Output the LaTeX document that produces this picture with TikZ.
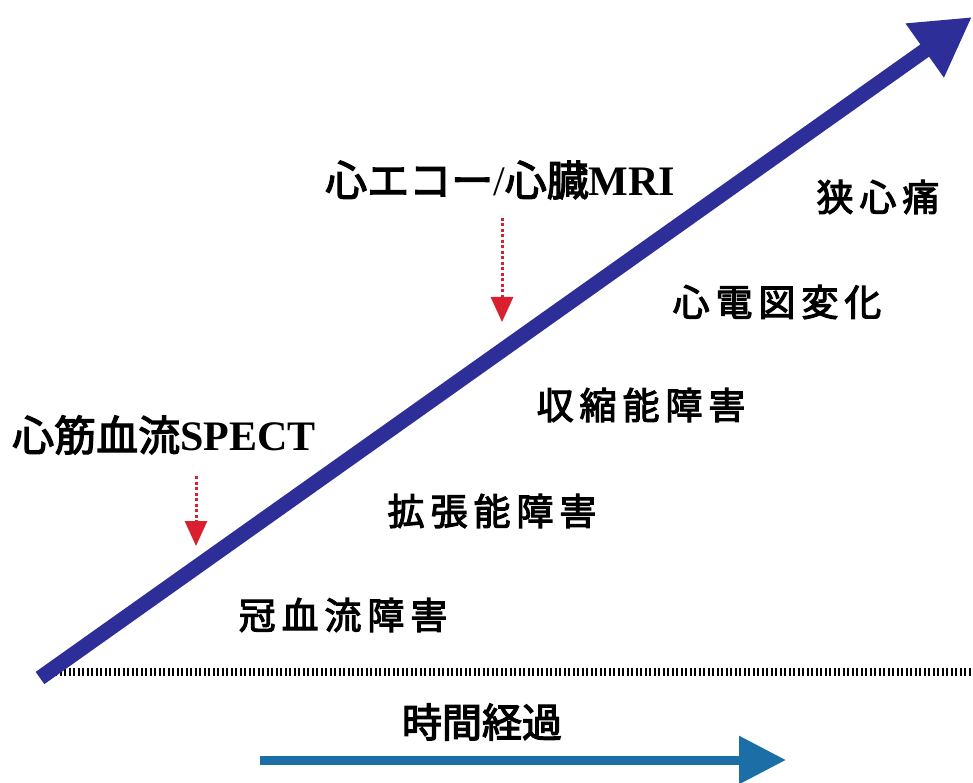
\documentclass[tikz,border=0pt]{standalone}
\usepackage{fontspec}
\setmainfont{Liberation Serif}
\newfontfamily\jp{Noto Sans CJK JP}[FakeBold=3]
\newfontfamily\jpsp{Noto Sans CJK JP}[FakeBold=3,LetterSpace=16]
\usetikzlibrary{arrows.meta}
\definecolor{mainblue}{RGB}{46,46,152}
\definecolor{timeblue}{RGB}{27,111,166}
\definecolor{redarr}{RGB}{218,32,46}
\newcommand{\lat}[1]{{\rmfamily\bfseries #1}}
\tikzset{
  lbl/.style={inner sep=0pt, font=\jpsp\fontsize{37}{40}\selectfont},
  test/.style={inner sep=0pt, anchor=west},
  redarrow/.style={redarr, line width=3pt, dash pattern=on 3pt off 2.5pt,
    -{Triangle[length=25pt,width=22pt,sep=0pt]}, shorten >=0pt},
}
\begin{document}
\begin{tikzpicture}[x=1pt,y=1pt]
\useasboundingbox (0,0) rectangle (973,782);
\fill[white] (0,0) rectangle (973,782);
% baseline dotted
\coordinate (b0) at (55,110);
\coordinate (b1) at (973,110);
\draw[black, line width=8pt, dash pattern=on 2.4pt off 2.1pt] (b0) -- (b1);
% main arrow
\coordinate (s) at (40,104);
\coordinate (t) at (972,765);
\draw[mainblue, line width=15pt, -{Triangle[length=58pt,width=62pt]}] (s) -- (t);
% labels
\node[test] (spect) at (12,347) {\jp\fontsize{42}{46}\selectfont 心筋血流\lat{SPECT}};
\node[test] (mri) at (325,602) {\jp\fontsize{42}{46}\selectfont 心エコー{\rmfamily/}心臓\lat{MRI}};
\node[lbl] (l1) at (878,585) {狭心痛};
\node[lbl] (l2) at (777,480) {心電図変化};
\node[lbl] (l3) at (641,377) {収縮能障害};
\node[lbl] (l4) at (492,271) {拡張能障害};
\node[lbl] (l5) at (343,167) {冠血流障害};
% red arrows
\coordinate (r1a) at (196,306);
\coordinate (r1b) at (196,236);
\draw[redarrow] (r1a) -- (r1b);
\coordinate (r2a) at (502,564);
\coordinate (r2b) at (502,460);
\draw[redarrow] (r2a) -- (r2b);
% time
\node[inner sep=0pt, font=\jp\fontsize{40}{44}\selectfont] (time) at (482,60) {時間経過};
\coordinate (ta) at (260,22);
\coordinate (tb) at (786,22);
\draw[timeblue, line width=9pt, -{Triangle[length=47pt,width=46pt]}] (ta) -- (tb);
\end{tikzpicture}
\end{document}
